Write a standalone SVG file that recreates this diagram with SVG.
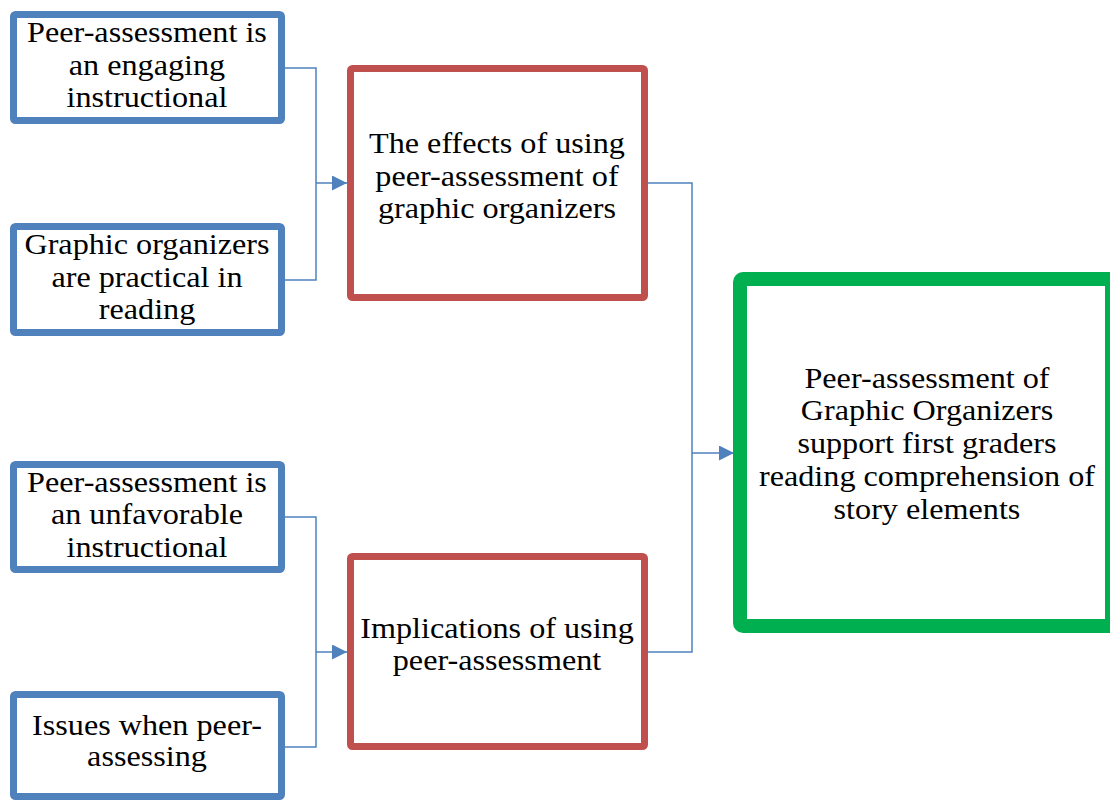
<svg xmlns="http://www.w3.org/2000/svg" width="1110" height="800" viewBox="0 0 1110 800">
<style>
.bl{fill:#fff;stroke:#4F81BD;stroke-width:7}
.rd{fill:#fff;stroke:#C0504D;stroke-width:7}
.gr{fill:#fff;stroke:#00B050;stroke-width:14}
text{font-family:"Liberation Serif","Times New Roman",serif;font-size:28.5px;fill:#000;text-anchor:middle}
.c{fill:none;stroke:#4F81BD;stroke-width:1.5}
</style>
<defs>
<marker id="ah2" viewBox="0 0 10 10" refX="10" refY="5" markerWidth="15" markerHeight="15" markerUnits="userSpaceOnUse" orient="auto">
<path d="M0,0 L10,5 L0,10 z" fill="#4F81BD"/>
</marker>
</defs>
<rect width="1110" height="800" fill="#fff"/>
<g id="connectors">
<path class="c" d="M285,68 H316 V280 H285"/>
<path class="c" d="M316,183 H347" marker-end="url(#ah2)"/>
<path class="c" d="M285,517 H316 V747 H285"/>
<path class="c" d="M316,652 H347" marker-end="url(#ah2)"/>
<path class="c" d="M648,183 H692 V652 H648"/>
<path class="c" d="M692,453 H734" marker-end="url(#ah2)"/>
</g>
<g id="n1"><rect class="bl" x="13.5" y="14.5" width="268" height="106" rx="2"/>
<g transform="translate(147,0) scale(1.13,1)"><text x="0" y="42">Peer-assessment is</text><text x="0" y="75">an engaging</text><text x="0" y="107">instructional</text></g></g>
<g id="n2"><rect class="bl" x="13.5" y="226.5" width="268" height="106" rx="2"/>
<g transform="translate(147,0) scale(1.13,1)"><text x="0" y="254">Graphic organizers</text><text x="0" y="287">are practical in</text><text x="0" y="319">reading</text></g></g>
<g id="n3"><rect class="bl" x="13.5" y="464.5" width="268" height="105" rx="2"/>
<g transform="translate(147,0) scale(1.13,1)"><text x="0" y="492">Peer-assessment is</text><text x="0" y="524">an unfavorable</text><text x="0" y="557">instructional</text></g></g>
<g id="n4"><rect class="bl" x="13.5" y="694.5" width="268" height="102" rx="2"/>
<g transform="translate(147,0) scale(1.13,1)"><text x="0" y="735">Issues when peer-</text><text x="0" y="766">assessing</text></g></g>
<g id="r1"><rect class="rd" x="350.5" y="68.5" width="294" height="229" rx="2"/>
<g transform="translate(497,0) scale(1.13,1)"><text x="0" y="153">The effects of using</text><text x="0" y="186">peer-assessment of</text><text x="0" y="218">graphic organizers</text></g></g>
<g id="r2"><rect class="rd" x="350.5" y="556.5" width="294" height="190" rx="2"/>
<g transform="translate(497,0) scale(1.13,1)"><text x="0" y="638">Implications of using</text><text x="0" y="670">peer-assessment</text></g></g>
<g id="g1"><rect class="gr" x="740" y="279" width="372" height="347" rx="3"/>
<g transform="translate(927,0) scale(1.13,1)"><text x="0" y="388">Peer-assessment of</text><text x="0" y="420">Graphic Organizers</text><text x="0" y="453">support first graders</text><text x="0" y="486">reading comprehension of</text><text x="0" y="519">story elements</text></g></g>
</svg>
